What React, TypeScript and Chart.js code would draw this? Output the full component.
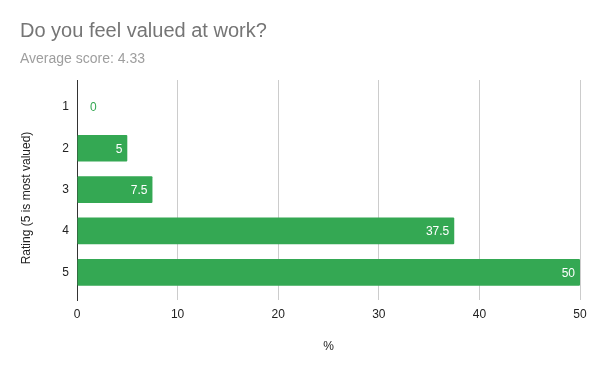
import React, { useEffect, useRef } from "react";
import { Chart, registerables } from "chart.js";

Chart.register(...registerables);

const titleText = "Do you feel valued at work?";
const subtitleText = "Average score: 4.33";
const categories = ["1", "2", "3", "4", "5"];
const values = [0, 5, 7.5, 37.5, 50];
const xTicks = [0, 10, 20, 30, 40, 50];
const yAxisTitle = "Rating (5 is most valued)";
const xAxisTitle = "%";

const FONT = "'Liberation Sans', Arial, sans-serif";
const GREEN = "#34a853";

const overlayPlugin = {
  id: "overlay",
  afterDraw(chart: any) {
    const ctx = chart.ctx;
    ctx.save();
    ctx.textBaseline = "alphabetic";
    ctx.textAlign = "left";
    ctx.fillStyle = "#757575";
    ctx.font = `20px ${FONT}`;
    ctx.fillText(titleText, 20, 37);
    ctx.fillStyle = "#9e9e9e";
    ctx.font = `14px ${FONT}`;
    ctx.fillText(subtitleText, 20, 63);

    // y-axis title
    ctx.save();
    ctx.fillStyle = "#222222";
    ctx.font = `12px ${FONT}`;
    ctx.textAlign = "center";
    ctx.textBaseline = "middle";
    ctx.translate(27, 198);
    ctx.rotate(-Math.PI / 2);
    ctx.fillText(yAxisTitle, 0, 0);
    ctx.restore();

    const meta = chart.getDatasetMeta(0);
    ctx.font = `12px ${FONT}`;
    ctx.textBaseline = "middle";
    meta.data.forEach((bar: any, i: number) => {
      const v = values[i];
      const label = String(v);
      if (v > 0) {
        ctx.fillStyle = "#ffffff";
        ctx.textAlign = "right";
        ctx.fillText(label, bar.x - 5, bar.y + 1);
      } else {
        ctx.fillStyle = GREEN;
        ctx.textAlign = "left";
        ctx.fillText(label, bar.x + 13, bar.y + 1);
      }
    });
    ctx.restore();
  },
};

export default function App() {
  const ref = useRef<HTMLCanvasElement>(null);
  useEffect(() => {
    document.body.style.margin = "0";
    const chart = new Chart(ref.current!, {
      type: "bar",
      data: {
        datasets: [
          {
            data: values.map((v, i) => ({ x: v, y: i + 1 })),
            backgroundColor: GREEN,
            borderRadius: 1,
            borderSkipped: false,
            categoryPercentage: 1,
            barPercentage: 0.645,
          },
        ],
      },
      options: {
        indexAxis: "y",
        animation: false,
        responsive: false,
        maintainAspectRatio: false,
        layout: { padding: { left: 0, right: 20, top: 80, bottom: 0 } },
        plugins: {
          legend: { display: false },
          tooltip: { enabled: false },
          title: { display: false },
        },
        scales: {
          x: {
            type: "linear",
            min: 0,
            max: 50,
            afterFit(scale: any) {
              scale.height = 71;
            },
            afterBuildTicks(scale: any) {
              scale.ticks = xTicks.map((v) => ({ value: v }));
            },
            grid: {
              color: "#cccccc",
              drawTicks: false,
              lineWidth: 1,
            },
            border: { display: false },
            ticks: {
              color: "#222222",
              font: { family: FONT, size: 12 },
              padding: 7,
            },
            title: {
              display: true,
              text: xAxisTitle,
              color: "#222222",
              font: { family: FONT, size: 12 },
              padding: { top: 0, bottom: 17 },
            },
          },
          y: {
            type: "linear",
            reverse: true,
            offset: false,
            min: 0.35,
            max: 5.67,
            afterFit(scale: any) {
              scale.width = 77;
            },
            afterBuildTicks(scale: any) {
              scale.ticks = categories.map((_, i) => ({ value: i + 1 }));
            },
            grid: { display: false, drawTicks: false, offset: false },
            border: { display: true, color: "#333333", width: 1 },
            ticks: {
              color: "#222222",
              font: { family: FONT, size: 12 },
              padding: 8,
              callback: (v: any) => categories[Math.round(Number(v)) - 1] ?? "",
            },
            title: { display: false },
          },
        },
      },
      plugins: [overlayPlugin],
    } as any);
    return () => chart.destroy();
  }, []);
  return (
    <div style={{ position: "absolute", left: 0, top: 0, width: 600, height: 371, background: "#fff" }}>
      <canvas ref={ref} width={600} height={371} style={{ width: 600, height: 371, display: "block" }} />
    </div>
  );
}
